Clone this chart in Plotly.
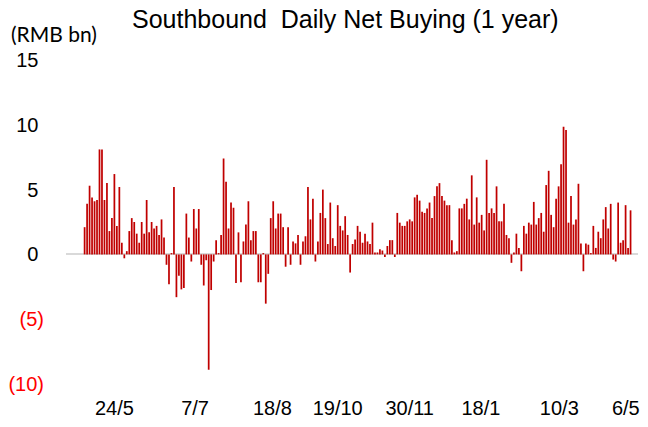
import plotly.graph_objects as go

# Daily southbound net buying (RMB bn), in trading-day order
net_buying = [
    2.1, 3.9, 5.3, 4.4, 4.1, 4.2, 8.1, 8.1, 4.2, 5.5, 1.8, 2.8, 6.2, 2.2, 5.2, 0.9, -0.3, 0.25, 1.8, 2.8,
    2.5, 1.6, 0.9, 2.5, 1.6, 4.2, 1.7, 2.5, 2.0, 2.2, 1.5, 2.7, 1.3, -0.8, -2.3, 0.1, 5.2, -3.3, -1.65, -2.7,
    -2.6, 3.15, 1.3, -0.55, 3.5, 2.0, 3.5, -0.8, -2.4, -0.45, -8.9, -2.75, -0.55, 1.1, 0.1, 1.5, 7.4, 5.6, 2.0, 4.0,
    3.6, -2.2, 1.7, -2.15, 1.0, 2.3, 4.1, 1.1, 1.8, 1.8, -2.15, -2.15, 0.1, -3.8, -1.5, 2.8, 4.1, 2.0, 3.15, 3.15,
    2.1, -0.95, 2.1,
    -0.8, 1.0, 0.85, 1.5, -0.8, 1.0, 1.4, 5.2, 2.7, 4.3, -0.55, 1.0, 3.2, 5.0, 2.8, 0.8, 4.0, 1.25, 0.65, 3.8,
    2.2, 1.85, 2.95, 1.5, -1.4, 0.8, 1.15, 2.2, 1.75, 0.9, 1.6, 1.0, 0.8, 2.45, 0.15, 0.15, 0.4, 0.3, -0.2, 0.65,
    1.1, 1.1,
    -0.2, 3.2, 2.45, 2.2, 2.2, 2.55, 2.7, 2.55, 4.4, 4.6, 4.15, 3.3, 3.2, 3.55, 4.0, 2.8, 4.5, 5.25, 5.5, 4.5,
    4.15, 3.8, 3.8, 1.1, 0.15, 0.25, 3.55, 3.55, 3.9, 4.3, 2.7, 6.1, 2.3, 4.4, 2.45, 3.05, 1.85, 7.3, 3.2, 3.55,
    3.2, 5.25, 2.55,
    2.55, 3.9, 1.5, 1.25, -0.65, 0.15, 1.6, 0.5, -1.3, 2.2, 1.6, 2.45, 2.3, 4.05, 2.3, 2.8, 3.2, 1.75, 5.35, 6.45,
    3.05, 2.1, 4.3, 5.25, 6.95, 9.85, 9.6, 2.45, 4.5, 2.3, 2.7, 5.45, 0.85, -1.3, 0.85, 0.75, 0.1, 2.2, 0.5, 1.75,
    1.25, 2.7, 3.65,
    2.0, 3.9, -0.4, -0.55, 4.0, 0.9, 1.1, 3.8, 0.5, 3.4,
]
trading_day = list(range(len(net_buying)))

# Date labels and the trading day each falls on
date_labels = ["24/5", "7/7", "18/8", "19/10", "30/11", "18/1", "10/3", "6/5"]
date_label_day = [12, 44.5, 75.7, 102, 131, 159.7, 191.3, 218.1]

y_tick_values = [15, 10, 5, 0, -5, -10]
y_tick_labels = ["15", "10", "5", "0", "(5)", "(10)"]

RED = "#C00000"

def fmt(v, s):
    # accounting-style: negatives in red parentheses, positives padded for the ")"
    return f"<span style='color:#FF0000'>{s}</span>" if v < 0 else s + "\u00a0"

fig = go.Figure(
    go.Bar(
        x=trading_day,
        y=net_buying,
        marker=dict(color=RED, line=dict(width=0)),
        hoverinfo="y",
    )
)

fig.update_layout(
    width=648,
    height=427,
    margin=dict(l=64, r=8, t=60, b=39),
    paper_bgcolor="white",
    plot_bgcolor="white",
    showlegend=False,
    bargap=0.3,
    font=dict(family="Liberation Sans, Arial, sans-serif", size=20, color="black"),
    annotations=[
        dict(
            text="Southbound\u00a0 Daily Net Buying (1 year)",
            xref="paper", yref="paper", x=0.488, y=1.0, yshift=41,
            xanchor="center", yanchor="middle", showarrow=False,
            font=dict(size=25, color="black"),
        ),
        dict(
            text="(RMB bn)",
            xref="paper", yref="paper", x=0, xshift=-57, y=1.0, yshift=27,
            xanchor="left", yanchor="middle", showarrow=False,
            font=dict(family="Lato, sans-serif", size=21, color="black"),
        ),
    ],
)

fig.update_xaxes(
    range=[-7.5, 223],
    tickmode="array",
    tickvals=date_label_day,
    ticktext=date_labels,
    showgrid=False,
    zeroline=False,
    showline=False,
    ticks="",
    ticklabelstandoff=10,
    tickfont=dict(size=20),
)

fig.update_yaxes(
    range=[-10, 15],
    tickmode="array",
    tickvals=y_tick_values,
    ticktext=[fmt(v, s) for v, s in zip(y_tick_values, y_tick_labels)],
    showgrid=False,
    zeroline=True,
    zerolinecolor="#D9D9D9",
    zerolinewidth=2,
    showline=False,
    ticks="",
    ticklabelstandoff=21,
    tickfont=dict(size=20),
)

fig.write_html(
    "out.html",
    config={"displayModeBar": False, "staticPlot": True},
    post_script="document.body.style.margin='0px';document.body.style.overflow='hidden';",
)
